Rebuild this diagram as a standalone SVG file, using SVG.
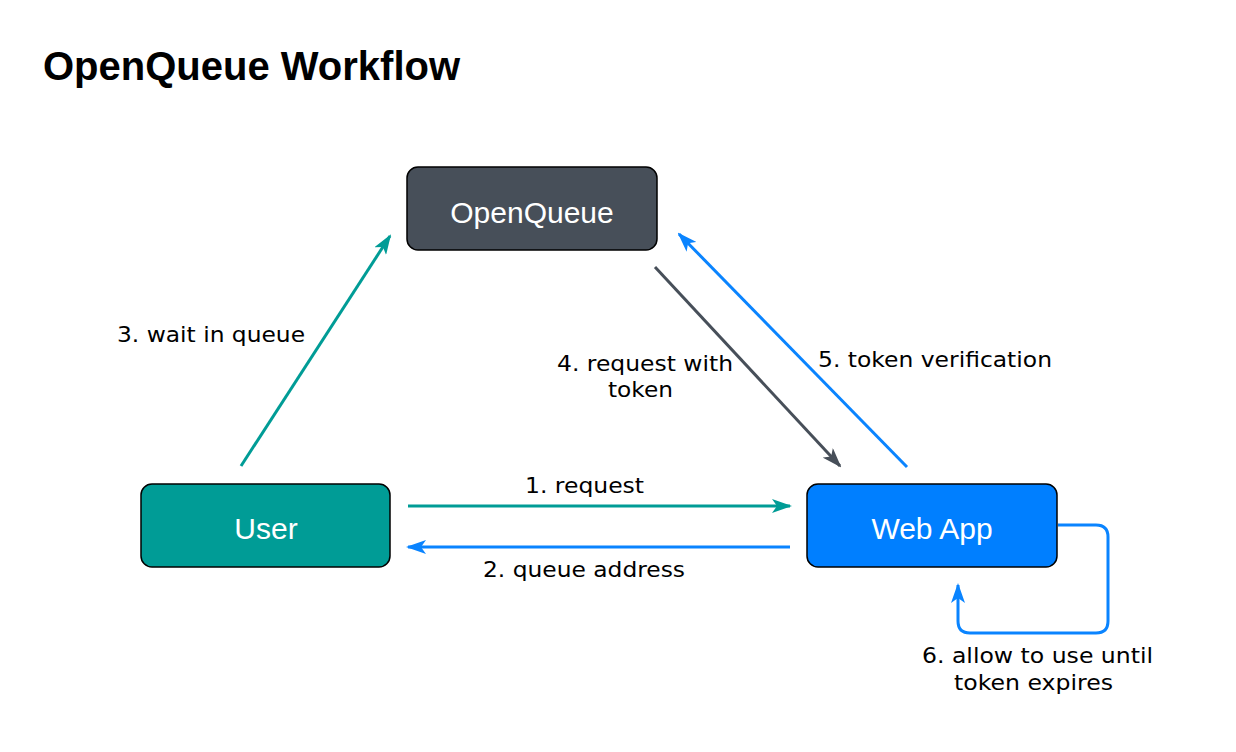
<svg xmlns="http://www.w3.org/2000/svg" width="1236" height="752" viewBox="0 0 1236 752">
<style>
.node{stroke:#000;stroke-width:1.5}
.nl{font-family:"Liberation Sans",Arial,sans-serif;font-size:30px;fill:#fff;text-anchor:middle}
.lb{font-family:"DejaVu Sans",Verdana,sans-serif;font-size:22px;fill:#000}
.c{fill:none;stroke-width:3}
</style>
<defs>
<marker id="aT" viewBox="0 0 20 14" refX="18" refY="7" markerWidth="20" markerHeight="14" markerUnits="userSpaceOnUse" orient="auto"><path d="M0,0 L20,7 L0,14 L5,7 Z" fill="#009c96"/></marker>
<marker id="aB" viewBox="0 0 20 14" refX="18" refY="7" markerWidth="20" markerHeight="14" markerUnits="userSpaceOnUse" orient="auto"><path d="M0,0 L20,7 L0,14 L5,7 Z" fill="#0a84ff"/></marker>
<marker id="aG" viewBox="0 0 20 14" refX="18" refY="7" markerWidth="20" markerHeight="14" markerUnits="userSpaceOnUse" orient="auto"><path d="M0,0 L20,7 L0,14 L5,7 Z" fill="#474f59"/></marker>
</defs>
<rect width="1236" height="752" fill="#fff"/>
<text x="43" y="80" font-family="Liberation Sans,Arial,sans-serif" font-size="40" font-weight="bold">OpenQueue Workflow</text>
<g id="connectors">
<path class="c" d="M408,506 L790,506" stroke="#009c96" marker-end="url(#aT)"/>
<path class="c" d="M790,547 L408,547" stroke="#0a84ff" marker-end="url(#aB)"/>
<path class="c" d="M241,466 L390,236" stroke="#009c96" marker-end="url(#aT)"/>
<path class="c" d="M655,267 L840,466" stroke="#474f59" marker-end="url(#aG)"/>
<path class="c" d="M907,467 L679,234" stroke="#0a84ff" marker-end="url(#aB)"/>
<path class="c" d="M1058,525 L1096,525 Q1108,525 1108,537 L1108,621 Q1108,633 1096,633 L970,633 Q958,633 958,621 L958,585" stroke="#0a84ff" marker-end="url(#aB)"/>
<text class="lb" x="525" y="493" textLength="119" lengthAdjust="spacingAndGlyphs">1. request</text>
<text class="lb" x="483" y="577" textLength="202" lengthAdjust="spacingAndGlyphs">2. queue address</text>
<text class="lb" x="117" y="342" textLength="188" lengthAdjust="spacingAndGlyphs">3. wait in queue</text>
<text class="lb" x="557" y="371" textLength="176" lengthAdjust="spacingAndGlyphs">4. request with</text>
<text class="lb" x="608" y="397" textLength="65" lengthAdjust="spacingAndGlyphs">token</text>
<text class="lb" x="818" y="367" textLength="234" lengthAdjust="spacingAndGlyphs">5. token verification</text>
<text class="lb" x="922" y="663" textLength="231" lengthAdjust="spacingAndGlyphs">6. allow to use until</text>
<text class="lb" x="954" y="690" textLength="159" lengthAdjust="spacingAndGlyphs">token expires</text>
</g>
<g id="node-openqueue">
<rect class="node" x="407" y="167" width="250" height="83" rx="11" fill="#474f59"/>
<text class="nl" x="532" y="223">OpenQueue</text>
</g>
<g id="node-user">
<rect class="node" x="141" y="484" width="249" height="83" rx="11" fill="#009c96"/>
<text class="nl" x="266" y="539">User</text>
</g>
<g id="node-webapp">
<rect class="node" x="807" y="484" width="250" height="83" rx="11" fill="#007fff"/>
<text class="nl" x="932" y="539">Web App</text>
</g>
</svg>
